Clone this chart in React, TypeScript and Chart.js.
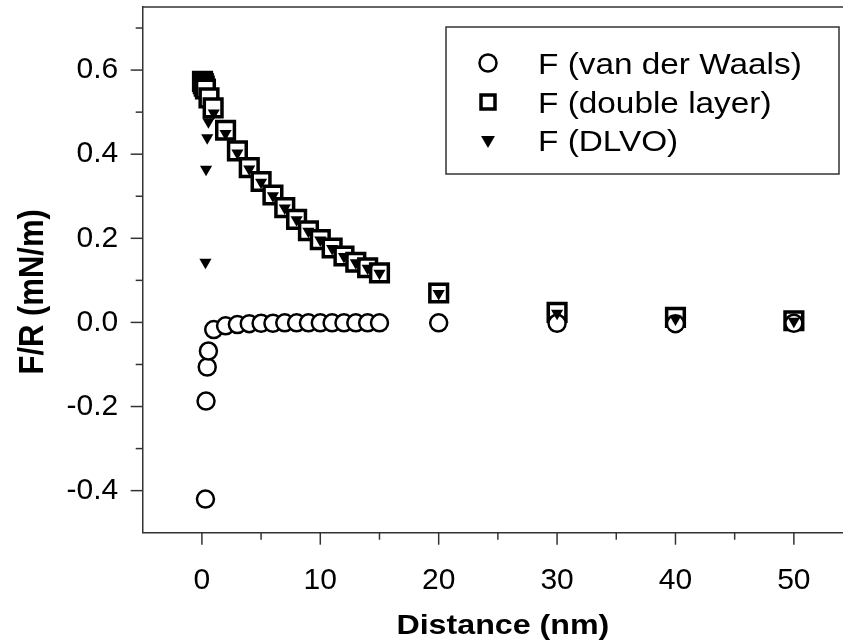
import React, { useEffect, useRef } from "react";
import { Chart, registerables } from "chart.js";

Chart.register(...registerables);

// ---- data ----
const seriesNames = ["F (van der Waals)", "F (double layer)", "F (DLVO)"];

const vdwX = [0.3, 0.35, 0.45, 0.55, 1, 2, 3, 4, 5, 6, 7, 8, 9, 10, 11, 12, 13, 14, 15, 20, 30, 40, 50];
const vdwY = [-0.42, -0.187, -0.106, -0.068, -0.017, -0.008, -0.005, -0.003, -0.002, -0.002, -0.001, -0.001, -0.001, -0.001, -0.001, -0.001, -0.001, -0.001, -0.001, -0.001, -0.002, -0.003, -0.002];

const dlX = [0.05, 0.12, 0.2, 0.3, 0.6, 0.95, 2, 3, 4, 5, 6, 7, 8, 9, 10, 11, 12, 13, 14, 15, 20, 30, 40, 50];
const dlY = [0.573, 0.568, 0.562, 0.555, 0.534, 0.51, 0.457, 0.408, 0.368, 0.335, 0.303, 0.273, 0.245, 0.218, 0.197, 0.177, 0.158, 0.143, 0.13, 0.118, 0.07, 0.024, 0.012, 0.004];

const dlvoX = [0.3, 0.35, 0.45, 0.55, 1, 2, 3, 4, 5, 6, 7, 8, 9, 10, 11, 12, 13, 14, 15, 20, 30, 40, 50];
const dlvoY = [0.143, 0.364, 0.439, 0.477, 0.498, 0.449, 0.403, 0.365, 0.333, 0.301, 0.272, 0.244, 0.217, 0.196, 0.176, 0.157, 0.142, 0.129, 0.117, 0.069, 0.022, 0.008, 0.003];

const xTickValues = [-5, 0, 5, 10, 15, 20, 25, 30, 35, 40, 45, 50];
const xTickLabels = ["", "0", "", "10", "", "20", "", "30", "", "40", "", "50"];
const yTickValues = [-0.5, -0.4, -0.3, -0.2, -0.1, 0, 0.1, 0.2, 0.3, 0.4, 0.5, 0.6, 0.7];
const yTickLabels = ["", "-0.4", "", "-0.2", "", "0.0", "", "0.2", "", "0.4", "", "0.6", ""];

const xTitle = "Distance (nm)";
const yTitle = "F/R (mN/m)";

const X_MIN = -5;
const X_MAX = 54.15;
const Y_MIN = -0.5;
const Y_MAX = 0.75;

// ---- styles ----
const FONT = "'Liberation Sans', Arial, Helvetica, sans-serif";
const AXIS = "#333333";

const toPts = (xs: number[], ys: number[]) => xs.map((x, i) => ({ x, y: ys[i] }));

function drawMarker(ctx: CanvasRenderingContext2D, kind: number, x: number, y: number) {
  ctx.save();
  ctx.strokeStyle = "#000";
  ctx.fillStyle = "#fff";
  if (kind === 0) {
    ctx.lineWidth = 2.5;
    ctx.beginPath();
    ctx.arc(x, y, 8.5, 0, Math.PI * 2);
    ctx.fill();
    ctx.stroke();
  } else if (kind === 1) {
    ctx.lineWidth = 3.5;
    const h = 7;
    ctx.beginPath();
    ctx.rect(x - h, y - h, 2 * h, 2 * h);
    ctx.fill();
    ctx.stroke();
  } else {
    ctx.fillStyle = "#000";
    const r = 8;
    ctx.beginPath();
    ctx.moveTo(x - r * 0.866, y - r * 0.5);
    ctx.lineTo(x + r * 0.866, y - r * 0.5);
    ctx.lineTo(x, y + r);
    ctx.closePath();
    ctx.fill();
  }
  ctx.restore();
}

const decorPlugin = {
  id: "decor",
  afterDraw(chart: any) {
    const { ctx, chartArea, scales } = chart;
    const xs = scales.x;
    const ys = scales.y;
    ctx.save();
    ctx.strokeStyle = AXIS;
    ctx.lineWidth = 1.5;
    // top frame line
    ctx.beginPath();
    ctx.moveTo(chartArea.left, chartArea.top);
    ctx.lineTo(chartArea.right, chartArea.top);
    ctx.stroke();
    // x tick marks (major / minor)
    xTickValues.forEach((v, i) => {
      const px = xs.getPixelForValue(v);
      if (px <= chartArea.left + 1) return;
      const len = xTickLabels[i] ? 12 : 7;
      ctx.beginPath();
      ctx.moveTo(px, chartArea.bottom);
      ctx.lineTo(px, chartArea.bottom + len);
      ctx.stroke();
    });
    // y tick marks
    yTickValues.forEach((v, i) => {
      const py = ys.getPixelForValue(v);
      if (py >= chartArea.bottom - 1) return;
      const len = yTickLabels[i] ? 12 : 7;
      ctx.beginPath();
      ctx.moveTo(chartArea.left, py);
      ctx.lineTo(chartArea.left - len, py);
      ctx.stroke();
    });

    // axis titles
    ctx.fillStyle = "#000";
    ctx.textAlign = "center";
    ctx.textBaseline = "alphabetic";
    ctx.font = `bold 28px ${FONT}`;
    ctx.save();
    ctx.translate((chartArea.left + chartArea.right) / 2 + 10, 634);
    ctx.scale(1.15, 1);
    ctx.fillText(xTitle, 0, 0);
    ctx.restore();

    ctx.font = `bold 31px ${FONT}`;
    ctx.save();
    ctx.translate(42.5, (chartArea.top + chartArea.bottom) / 2 + 22);
    ctx.rotate(-Math.PI / 2);
    ctx.scale(1, 1.15);
    ctx.fillText(yTitle, 0, 0);
    ctx.restore();

    // legend box
    const bx = 446, by = 27, bw = 393, bh = 147;
    ctx.fillStyle = "#fff";
    ctx.fillRect(bx, by, bw, bh);
    ctx.strokeStyle = AXIS;
    ctx.lineWidth = 1.5;
    ctx.strokeRect(bx, by, bw, bh);
    const rows = [63, 102, 140];
    ctx.font = `29px ${FONT}`;
    ctx.textAlign = "left";
    seriesNames.forEach((name, i) => {
      drawMarker(ctx, i, 488, rows[i]);
      ctx.save();
      ctx.fillStyle = "#000";
      ctx.translate(538, rows[i] + 10.5);
      ctx.scale(1.15, 1);
      ctx.fillText(name, 0, 0);
      ctx.restore();
    });
    ctx.restore();
  },
};

export default function App() {
  const ref = useRef<HTMLCanvasElement>(null);

  useEffect(() => {
    document.body.style.margin = "0";
    const canvas = ref.current;
    if (!canvas) return;
    const chart = new Chart(canvas, {
      type: "scatter",
      data: {
        datasets: [
          {
            label: seriesNames[0],
            data: toPts(vdwX, vdwY),
            pointStyle: "circle",
            pointRadius: 8.5,
            pointBorderWidth: 2.5,
            pointBorderColor: "#000",
            pointBackgroundColor: "#fff",
            showLine: false,
            order: 1,
          },
          {
            label: seriesNames[1],
            data: toPts(dlX, dlY),
            pointStyle: "rect",
            pointRadius: 12.5,
            pointBorderWidth: 3.5,
            pointBorderColor: "#000",
            pointBackgroundColor: "#fff",
            showLine: false,
            order: 2,
          },
          {
            label: seriesNames[2],
            data: toPts(dlvoX, dlvoY),
            pointStyle: "triangle",
            rotation: 180,
            pointRadius: 7,
            pointBorderWidth: 0,
            pointBorderColor: "#000",
            pointBackgroundColor: "#000",
            showLine: false,
            order: 0,
          },
        ],
      },
      options: {
        responsive: false,
        animation: false,
        events: [],
        layout: { autoPadding: false, padding: { left: 0, right: 0, top: 7, bottom: 0 } },
        plugins: {
          legend: { display: false },
          tooltip: { enabled: false },
          title: { display: false },
        },
        scales: {
          x: {
            type: "linear",
            min: X_MIN,
            max: X_MAX,
            afterBuildTicks: (s: any) => {
              s.ticks = xTickValues.map((v) => ({ value: v }));
            },
            afterFit: (s: any) => {
              s.height = 109.3;
              s.paddingLeft = 0;
              s.paddingRight = 0;
            },
            grid: {
              display: true,
              drawOnChartArea: false,
              drawTicks: true,
              tickLength: 12,
              color: "rgba(0,0,0,0)",
            },
            border: { display: true, color: AXIS, width: 1.5 },
            ticks: {
              autoSkip: false,
              maxRotation: 0,
              minRotation: 0,
              padding: 18,
              color: "#000",
              font: { size: 30, family: FONT },
              callback: (_v: any, i: number) => xTickLabels[i] || null,
            },
          },
          y: {
            type: "linear",
            min: Y_MIN,
            max: Y_MAX,
            afterBuildTicks: (s: any) => {
              s.ticks = yTickValues.map((v) => ({ value: v }));
            },
            afterFit: (s: any) => {
              s.width = 142.7;
              s.paddingTop = 0;
              s.paddingBottom = 0;
            },
            grid: {
              display: true,
              drawOnChartArea: false,
              drawTicks: true,
              tickLength: 12,
              color: "rgba(0,0,0,0)",
            },
            border: { display: true, color: AXIS, width: 1.5 },
            ticks: {
              autoSkip: false,
              padding: 12.5,
              color: "#000",
              font: { size: 30, family: FONT },
              callback: (_v: any, i: number) => yTickLabels[i] || null,
            },
          },
        },
      },
      plugins: [decorPlugin],
    });
    return () => chart.destroy();
  }, []);

  return (
    <div style={{ position: "fixed", left: 0, top: 0, width: 843, height: 642, background: "#fff" }}>
      <canvas ref={ref} width={843} height={642} style={{ display: "block" }} />
    </div>
  );
}
